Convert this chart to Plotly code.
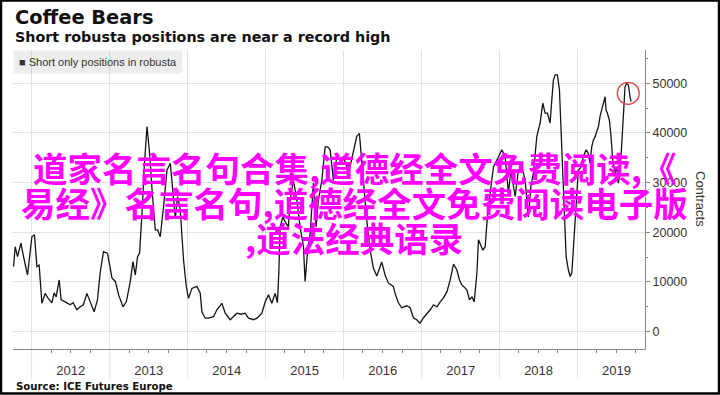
import numpy as np
import pandas as pd
import plotly.graph_objects as go

# ---------------- data ----------------
title = "Coffee Bears"
subtitle = "Short robusta positions are near a record high"
series_name = "Short only positions in robusta"
source_text = "Source: ICE Futures Europe"
axis_title = "Contracts"
year_labels = [2012, 2013, 2014, 2015, 2016, 2017, 2018, 2019]
y_tick_step = 10000
watermark_lines = [
    "道家名言名句合集,道德经全文免费阅读,《",
    "易经》名言名句,道德经全文免费阅读电子版",
    ",道法经典语录",
]

# time as fractional year
t_year = [
    2011.767, 2011.788, 2011.818, 2011.862, 2011.895, 2011.946, 2012.003, 2012.036, 2012.067, 2012.096,
    2012.131, 2012.173, 2012.208, 2012.259, 2012.288, 2012.314, 2012.353, 2012.378, 2012.429, 2012.494,
    2012.532, 2012.579, 2012.622, 2012.664, 2012.708, 2012.741, 2012.801, 2012.844, 2012.878, 2012.921,
    2012.972, 2013.028, 2013.071, 2013.113, 2013.169, 2013.212, 2013.263, 2013.297, 2013.327, 2013.356,
    2013.382, 2013.413, 2013.442, 2013.477, 2013.510, 2013.545, 2013.583, 2013.613, 2013.647, 2013.690,
    2013.733, 2013.776, 2013.810, 2013.840, 2013.869, 2013.904, 2013.926, 2013.946, 2013.981, 2014.010,
    2014.054, 2014.118, 2014.160, 2014.182, 2014.224, 2014.267, 2014.331, 2014.374, 2014.438, 2014.481,
    2014.545, 2014.631, 2014.686, 2014.737, 2014.779, 2014.844, 2014.887, 2014.951, 2014.994, 2015.036,
    2015.079, 2015.122, 2015.151, 2015.169, 2015.186, 2015.221, 2015.250, 2015.292, 2015.314, 2015.356,
    2015.400, 2015.442, 2015.485, 2015.506, 2015.536, 2015.571, 2015.613, 2015.647, 2015.677, 2015.721,
    2015.763, 2015.795, 2015.827, 2015.869, 2015.913, 2015.955, 2015.997, 2016.041, 2016.083, 2016.135,
    2016.169, 2016.203, 2016.233, 2016.254, 2016.297, 2016.340, 2016.382, 2016.426, 2016.490, 2016.532,
    2016.574, 2016.638, 2016.660, 2016.703, 2016.746, 2016.810, 2016.853, 2016.895, 2016.938, 2016.981,
    2017.023, 2017.067, 2017.109, 2017.151, 2017.195, 2017.237, 2017.279, 2017.323, 2017.365, 2017.408,
    2017.451, 2017.485, 2017.515, 2017.536, 2017.579, 2017.613, 2017.644, 2017.673, 2017.708, 2017.728,
    2017.759, 2017.785, 2017.814, 2017.836, 2017.878, 2017.921, 2017.985, 2018.028, 2018.071, 2018.113,
    2018.144, 2018.169, 2018.199, 2018.241, 2018.285, 2018.327, 2018.369, 2018.400, 2018.433, 2018.477,
    2018.519, 2018.554, 2018.583, 2018.613, 2018.647, 2018.669, 2018.690, 2018.712, 2018.741, 2018.767,
    2018.785, 2018.810, 2018.827, 2018.853, 2018.882, 2018.904, 2018.926, 2018.946, 2018.981, 2019.010,
    2019.041, 2019.074, 2019.109, 2019.135, 2019.160, 2019.182, 2019.203, 2019.224, 2019.246, 2019.267,
    2019.288, 2019.310, 2019.331, 2019.353, 2019.365, 2019.382, 2019.408, 2019.426, 2019.451, 2019.481,
    2019.503, 2019.522, 2019.545, 2019.567, 2019.587, 2019.609, 2019.631, 2019.651, 2019.673, 2019.686,
]

short_positions = [
    13100, 17100, 15100, 17800, 15100, 11400, 19100, 19500, 13100, 13400,
    5700, 7700, 6800, 5800, 7800, 7000, 10400, 6400, 6000, 5400,
    5800, 4400, 5000, 5400, 7700, 6400, 4000, 6400, 11800, 16100,
    15800, 10800, 10100, 7400, 5000, 6000, 10100, 14100, 11400, 15100,
    15800, 23800, 33200, 41300, 35900, 27900, 20500, 20500, 19100, 25200,
    32500, 33900, 28500, 22800, 27200, 24500, 19100, 14400, 9100, 6700,
    8700, 9100, 7800, 4000, 2700, 2700, 3000, 4400, 5700, 3700,
    2400, 3700, 3500, 3700, 2700, 2400, 2700, 3700, 6000, 7400,
    5700, 7700, 5800, 11800, 21100, 23100, 22100, 21100, 26500, 30500,
    26500, 21100, 17100, 10100, 15800, 19800, 29900, 21100, 26500, 30500,
    37200, 37200, 36600, 30500, 35200, 34600, 35200, 33200, 33200, 37200,
    39300, 39900, 35200, 30500, 22500, 16500, 12800, 11200, 14000, 11400,
    9800, 9100, 7700, 5800, 4800, 5200, 4800, 2800, 2400, 1700,
    2800, 3600, 4400, 5400, 5000, 6000, 6800, 8000, 10400, 13600,
    12400, 10400, 9400, 9100, 8400, 6400, 7000, 6000, 11800, 18500,
    17500, 16400, 17100, 21800, 27900, 33200, 35200, 36600, 35200, 27900,
    32500, 29900, 27200, 32500, 33200, 30500, 23100, 29200, 31900, 39300,
    42000, 46000, 44000, 44000, 42000, 46600, 50700, 51700, 51700, 48700,
    41300, 31900, 24500, 15100, 12400, 11100, 11800, 17100, 26500, 32500,
    33000, 35200, 36600, 36000, 33900, 37200, 38600, 39200, 40300, 41200,
    43300, 44600, 45600, 47300, 44600, 44000, 42600, 39900, 34600, 31900,
    33200, 29900, 31900, 37900, 44600, 49300, 50000, 49700, 47300, 46300,
]


def to_date(t):
    y = int(np.floor(t))
    return pd.Timestamp(year=y, month=1, day=1) + pd.Timedelta(days=(t - y) * 365.25)


dates = [to_date(t) for t in t_year]

# ---------------- layout geometry ----------------
W, H = 720, 395
L, R, T, B = 13, 75, 50, 46
PW, PH = W - L - R, H - T - B


def px(x):
    return (x - L) / PW


def py(y):
    return (H - B - y) / PH


GRID = "#e2e2e2"
AXIS = "#8a8a8a"
TXT = "#333333"

fig = go.Figure()
fig.add_trace(go.Scatter(
    x=dates, y=short_positions, mode="lines", name=series_name,
    line=dict(color="#141414", width=1.3), showlegend=False,
))

shapes = []
# year separators extending below the axis through the label band
for yr in year_labels:
    shapes.append(dict(type="line", xref="x", yref="paper",
                       x0=f"{yr}-01-01", x1=f"{yr}-01-01", y0=0, y1=py(379),
                       line=dict(color=GRID, width=1), layer="below"))

# red circle around the latest high
tail = 8
idx = len(short_positions) - tail + int(np.argmax(short_positions[-tail:]))
shapes.append(dict(type="circle", xref="x", yref="y",
                   xsizemode="pixel", ysizemode="pixel",
                   xanchor=dates[idx], yanchor=short_positions[idx],
                   x0=-9.5, x1=12.5, y0=-21, y1=1,
                   line=dict(color="#e0474c", width=1.3)))

# outer black frame
shapes.append(dict(type="rect", xref="paper", yref="paper",
                   x0=px(1), x1=px(719), y0=py(393.5), y1=py(0.5),
                   line=dict(color="#000000", width=2.5)))

annotations = [
    dict(text=f"<b>{title}</b>", xref="paper", yref="paper", x=px(13), y=py(17),
         xanchor="left", yanchor="middle", showarrow=False,
         font=dict(family="DejaVu Sans", size=19.4, color="#111")),
    dict(text=f"<b>{subtitle}</b>", xref="paper", yref="paper", x=px(13), y=py(37),
         xanchor="left", yanchor="middle", showarrow=False,
         font=dict(family="DejaVu Sans", size=14.3, color="#111")),
    dict(text=f"■ {series_name}", xref="paper", yref="paper", x=px(13), y=py(50),
         xanchor="left", yanchor="top", showarrow=False, bgcolor="rgba(0,0,0,0.07)",
         borderpad=5, font=dict(family="Liberation Sans", size=11, color=TXT)),
    dict(text=f"<b>{source_text}</b>", xref="paper", yref="paper", x=px(14), y=py(386),
         xanchor="left", yanchor="middle", showarrow=False,
         font=dict(family="DejaVu Sans", size=10.2, color="#111")),
    dict(text=axis_title, xref="paper", yref="paper", x=px(701), y=py(199),
         xanchor="center", yanchor="middle", showarrow=False, textangle=90,
         font=dict(family="Liberation Sans", size=13, color=TXT)),
]
for i, (line_txt, yc) in enumerate(zip(watermark_lines, [167, 202, 237])):
    annotations.append(dict(text=line_txt, xref="paper", yref="paper", x=px(354), y=py(yc),
                            xanchor="center", yanchor="middle", showarrow=False,
                            font=dict(family="Noto Sans CJK SC", size=34.5, color="#ff00ff",
                                      weight="bold")))

fig.update_layout(
    width=W, height=H,
    margin=dict(l=L, r=R, t=T, b=B, pad=0),
    paper_bgcolor="white", plot_bgcolor="white",
    shapes=shapes, annotations=annotations,
    xaxis=dict(
        type="date",
        range=[to_date(2011.76), to_date(2019.865)],
        tick0=f"{year_labels[0]}-01-01", dtick="M12",
        ticklabelmode="period", tickformat="%Y",
        showgrid=True, gridcolor=GRID, gridwidth=1,
        ticks="", showline=True, linecolor=AXIS, linewidth=1,
        zeroline=False, ticklabelstandoff=9,
        minor=dict(dtick="M3", ticks="outside", ticklen=3, tickcolor=AXIS, showgrid=False),
        tickfont=dict(family="Liberation Sans", size=13, color=TXT),
    ),
    yaxis=dict(
        side="right", range=[-3500, 56700],
        tick0=0, dtick=y_tick_step, tickformat="d",
        showgrid=True, gridcolor=GRID, gridwidth=1,
        ticks="outside", ticklen=4, tickcolor=AXIS,
        showline=True, linecolor=AXIS, linewidth=1, zeroline=False,
        minor=dict(dtick=y_tick_step / 2, ticks="outside", ticklen=2, tickcolor=AXIS, showgrid=False),
        tickfont=dict(family="Liberation Sans", size=12.5, color=TXT),
    ),
)

fig.write_html("out.html")
